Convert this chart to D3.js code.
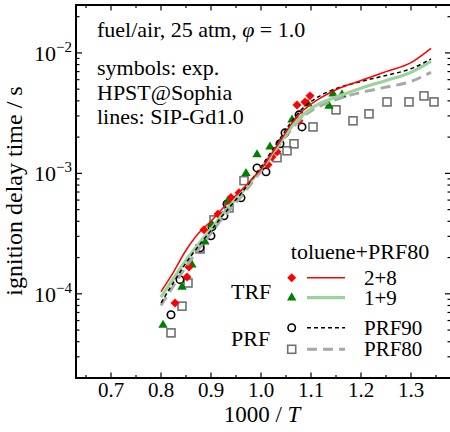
<!DOCTYPE html>
<html><head><meta charset="utf-8">
<script src="https://cdn.jsdelivr.net/npm/d3@7"></script>
<style>
html,body{margin:0;padding:0;background:#fff;}
text{font-family:"Liberation Serif","Times New Roman",serif;fill:#000;}
</style></head>
<body>
<svg id="c" width="450" height="432"></svg>
<script>
// ---------- data ----------
const xTickVals = [0.7, 0.8, 0.9, 1.0, 1.1, 1.2, 1.3];
const xTickLabels = ["0.7", "0.8", "0.9", "1.0", "1.1", "1.2", "1.3"];
const yTickVals = [1e-4, 1e-3, 1e-2];
const yTickExps = ["\u22124", "\u22123", "\u22122"];

// experiments (1000/T, ignition delay time in s)
const exp28X = [0.828,0.852,0.856,0.886,0.914,0.940,0.956,1.014,1.022,1.032,1.072,1.076,1.088,1.098];
const exp28Y = [8.4e-5,1.38e-4,1.67e-4,3.4e-4,4.6e-4,6.3e-4,6.9e-4,1.18e-3,1.37e-3,1.51e-3,3.7e-3,2.73e-3,3.92e-3,4.4e-3];
const exp19X = [0.804,0.842,0.862,0.888,0.902,0.934,0.970,0.992,1.018,1.062,1.094,1.136,1.144,1.162];
const exp19Y = [5.5e-5,1.14e-4,1.74e-4,2.7e-4,3.74e-4,5.9e-4,1.0e-3,1.43e-3,1.66e-3,2.78e-3,3.78e-3,3.63e-3,4.57e-3,4.5e-3];
const expP90X = [0.820,0.838,0.878,0.900,0.902,0.926,0.932,0.960,0.992,1.010,1.038,1.048,1.076,1.082];
const expP90Y = [6.7e-5,1.31e-4,2.41e-4,3.03e-4,3.6e-4,4.44e-4,5.58e-4,6.26e-4,1.11e-3,1.03e-3,1.76e-3,2.17e-3,3.06e-3,2.43e-3];
const expP80X = [0.820,0.842,0.854,0.878,0.906,0.936,0.966,1.032,1.052,1.066,1.104,1.150,1.184,1.216,1.252,1.296,1.326,1.346];
const expP80Y = [4.74e-5,7.9e-5,1.23e-4,2.36e-4,4.11e-4,5.17e-4,8.7e-4,1.35e-3,1.54e-3,1.76e-3,2.43e-3,3.37e-3,2.73e-3,3.12e-3,3.92e-3,3.92e-3,4.4e-3,3.92e-3];

// simulations (SIP-Gd1.0)
const simX   = [0.80,0.82,0.85,0.88,0.90,0.92,0.94,0.96,0.98,1.00,1.02,1.04,1.06,1.08,1.10,1.12,1.15,1.20,1.25,1.30,1.34];
const sim28  = [1.04e-4,1.4e-4,2.3e-4,3.35e-4,4.0e-4,4.95e-4,6.0e-4,7.2e-4,8.8e-4,1.08e-3,1.43e-3,1.9e-3,2.55e-3,3.2e-3,3.75e-3,4.25e-3,4.95e-3,5.9e-3,7.0e-3,8.3e-3,1.09e-2];
const sim19  = [9.4e-5,1.25e-4,1.9e-4,2.75e-4,3.45e-4,4.4e-4,5.5e-4,6.8e-4,8.6e-4,1.1e-3,1.42e-3,1.85e-3,2.4e-3,2.95e-3,3.45e-3,3.85e-3,4.3e-3,5.1e-3,5.9e-3,6.9e-3,8.5e-3];
const simP90 = [8.4e-5,1.15e-4,1.8e-4,2.65e-4,3.35e-4,4.3e-4,5.4e-4,6.8e-4,8.7e-4,1.13e-3,1.5e-3,2.0e-3,2.65e-3,3.35e-3,3.95e-3,4.45e-3,5.05e-3,5.8e-3,6.5e-3,7.4e-3,8.9e-3];
const simP80 = [8.0e-5,1.08e-4,1.68e-4,2.5e-4,3.2e-4,4.1e-4,5.1e-4,6.4e-4,8.2e-4,1.05e-3,1.38e-3,1.8e-3,2.3e-3,2.85e-3,3.3e-3,3.65e-3,4.1e-3,4.7e-3,5.2e-3,5.8e-3,6.9e-3];

const annotLines = ["fuel/air, 25 atm, ", "symbols: exp.", "HPST@Sophia", "lines: SIP-Gd1.0"];
const legendTitle = "toluene+PRF80";
const legendLabels = ["2+8", "1+9", "PRF90", "PRF80"];
const groupLabels = ["TRF", "PRF"];

// ---------- styles ----------
const RED = "#ff0000", DKGREEN = "#008000", LTGREEN = "#9ad49a", GRAY = "#a8a8a8", SQGRAY = "#707070";

// ---------- scales ----------
const svg = d3.select("#c");
const L = 76, R = 451, T = 5, B = 378;
const x = d3.scaleLinear().domain([0.63, 1.38]).range([L, R]);
const y = d3.scaleLog().domain([2e-5, 2.5e-2]).range([B, T]);

const defs = svg.append("defs");
defs.append("clipPath").attr("id", "clip").append("rect")
  .attr("x", L).attr("y", T).attr("width", R - L).attr("height", B - T);

// ---------- ticks ----------
const xMinor = d3.range(0.65, 1.3801, 0.05).filter(v => !xTickVals.some(t => Math.abs(t - v) < 1e-6));
const yMinor = [];
for (let k = -5; k <= -1; k++) for (let m = 2; m <= 9; m++) {
  const v = m * Math.pow(10, k);
  if (v >= 2e-5 && v <= 2.5e-2) yMinor.push(v);
}
const tk = svg.append("g").attr("stroke", "#000").attr("stroke-width", 1.2);
xTickVals.forEach(v => {
  tk.append("line").attr("x1", x(v)).attr("x2", x(v)).attr("y1", B).attr("y2", B - 5.5);
  tk.append("line").attr("x1", x(v)).attr("x2", x(v)).attr("y1", T).attr("y2", T + 5.5);
});
xMinor.forEach(v => {
  tk.append("line").attr("x1", x(v)).attr("x2", x(v)).attr("y1", B).attr("y2", B - 3);
  tk.append("line").attr("x1", x(v)).attr("x2", x(v)).attr("y1", T).attr("y2", T + 3);
});
yTickVals.forEach(v => {
  tk.append("line").attr("x1", L).attr("x2", L + 6).attr("y1", y(v)).attr("y2", y(v));
  tk.append("line").attr("x1", R).attr("x2", R - 6).attr("y1", y(v)).attr("y2", y(v));
});
yMinor.forEach(v => {
  tk.append("line").attr("x1", L).attr("x2", L + 3.5).attr("y1", y(v)).attr("y2", y(v));
  tk.append("line").attr("x1", R).attr("x2", R - 3.5).attr("y1", y(v)).attr("y2", y(v));
});

// frame
svg.append("rect").attr("x", L).attr("y", T).attr("width", R - L).attr("height", B - T)
  .attr("fill", "none").attr("stroke", "#000").attr("stroke-width", 2);

// tick labels
xTickVals.forEach((v, i) => {
  svg.append("text").attr("x", x(v)).attr("y", 397).attr("text-anchor", "middle")
    .attr("font-size", 21).text(xTickLabels[i]);
});
yTickVals.forEach((v, i) => {
  const t = svg.append("text").attr("x", 72).attr("y", y(v) + 8).attr("text-anchor", "end").attr("font-size", 22);
  t.append("tspan").text("10");
  t.append("tspan").attr("font-size", 15).attr("dy", -9).text(yTickExps[i]);
});

// axis labels
const xl = svg.append("text").attr("x", 262).attr("y", 422).attr("text-anchor", "middle").attr("font-size", 23);
xl.append("tspan").text("1000 / ");
xl.append("tspan").attr("font-style", "italic").text("T");
svg.append("text").attr("transform", "translate(22,191) rotate(-90)").attr("text-anchor", "middle")
  .attr("font-size", 24).text("ignition delay time / s");

// ---------- marks ----------
const plot = svg.append("g").attr("clip-path", "url(#clip)");
const sym = (type, size) => d3.symbol().type(type).size(size)();

function markers(xs, ys, draw) {
  xs.forEach((v, i) => draw(plot, x(v), y(ys[i])));
}
const drawDiamond = (g, cx, cy) => g.append("path").attr("d", sym(d3.symbolSquare, 40))
  .attr("transform", `translate(${cx},${cy}) rotate(45)`).attr("fill", RED);
const drawTri = (g, cx, cy) => g.append("path").attr("d", sym(d3.symbolTriangle, 38))
  .attr("transform", `translate(${cx},${cy})`).attr("fill", DKGREEN);
const drawCirc = (g, cx, cy) => g.append("circle").attr("cx", cx).attr("cy", cy).attr("r", 3.7)
  .attr("fill", "none").attr("stroke", "#000").attr("stroke-width", 1.6);
const drawSq = (g, cx, cy) => g.append("rect").attr("x", cx - 4).attr("y", cy - 4).attr("width", 8).attr("height", 8)
  .attr("fill", "none").attr("stroke", SQGRAY).attr("stroke-width", 1.6);

markers(expP80X, expP80Y, drawSq);
markers(expP90X, expP90Y, drawCirc);
markers(exp19X, exp19Y, drawTri);
markers(exp28X, exp28Y, drawDiamond);

const line = d3.line().x(d => x(d[0])).y(d => y(d[1])).curve(d3.curveMonotoneX);
const lineStyles = [
  {ys: simP80, stroke: GRAY, w: 3, dash: "10,6"},
  {ys: sim19, stroke: LTGREEN, w: 3.2, dash: null},
  {ys: simP90, stroke: "#000", w: 1.5, dash: "4,3"},
  {ys: sim28, stroke: RED, w: 1.5, dash: null}
];
lineStyles.forEach(s => {
  plot.append("path").datum(simX.map((v, i) => [v, s.ys[i]]))
    .attr("d", line).attr("fill", "none").attr("stroke", s.stroke)
    .attr("stroke-width", s.w).attr("stroke-dasharray", s.dash);
});

// ---------- annotation ----------
const annotY = [37, 75, 100, 124];
annotLines.forEach((s, i) => {
  const t = svg.append("text").attr("x", 97).attr("y", annotY[i]).attr("font-size", 22);
  t.append("tspan").text(s);
  if (i === 0) {
    t.append("tspan").attr("font-style", "italic").text("\u03c6");
    t.append("tspan").text(" = 1.0");
  }
});

// ---------- legend ----------
svg.append("text").attr("x", 360).attr("y", 259).attr("text-anchor", "middle").attr("font-size", 22).text(legendTitle);
const legY = [277.7, 297.7, 327.7, 349.3];
const legDraw = [drawDiamond, drawTri, drawCirc, drawSq];
const legLines = [lineStyles[3], lineStyles[1], lineStyles[2], lineStyles[0]];
legY.forEach((ly, i) => {
  legDraw[i](svg, 291.7, ly);
  svg.append("line").attr("x1", 307).attr("x2", 345).attr("y1", ly).attr("y2", ly)
    .attr("stroke", legLines[i].stroke).attr("stroke-width", legLines[i].w)
    .attr("stroke-dasharray", legLines[i].dash);
  svg.append("text").attr("x", 364).attr("y", ly + 7).attr("font-size", 21).text(legendLabels[i]);
});
svg.append("text").attr("x", 231).attr("y", 299).attr("font-size", 22).text(groupLabels[0]);
svg.append("text").attr("x", 231).attr("y", 346).attr("font-size", 22).text(groupLabels[1]);
</script>
</body></html>
